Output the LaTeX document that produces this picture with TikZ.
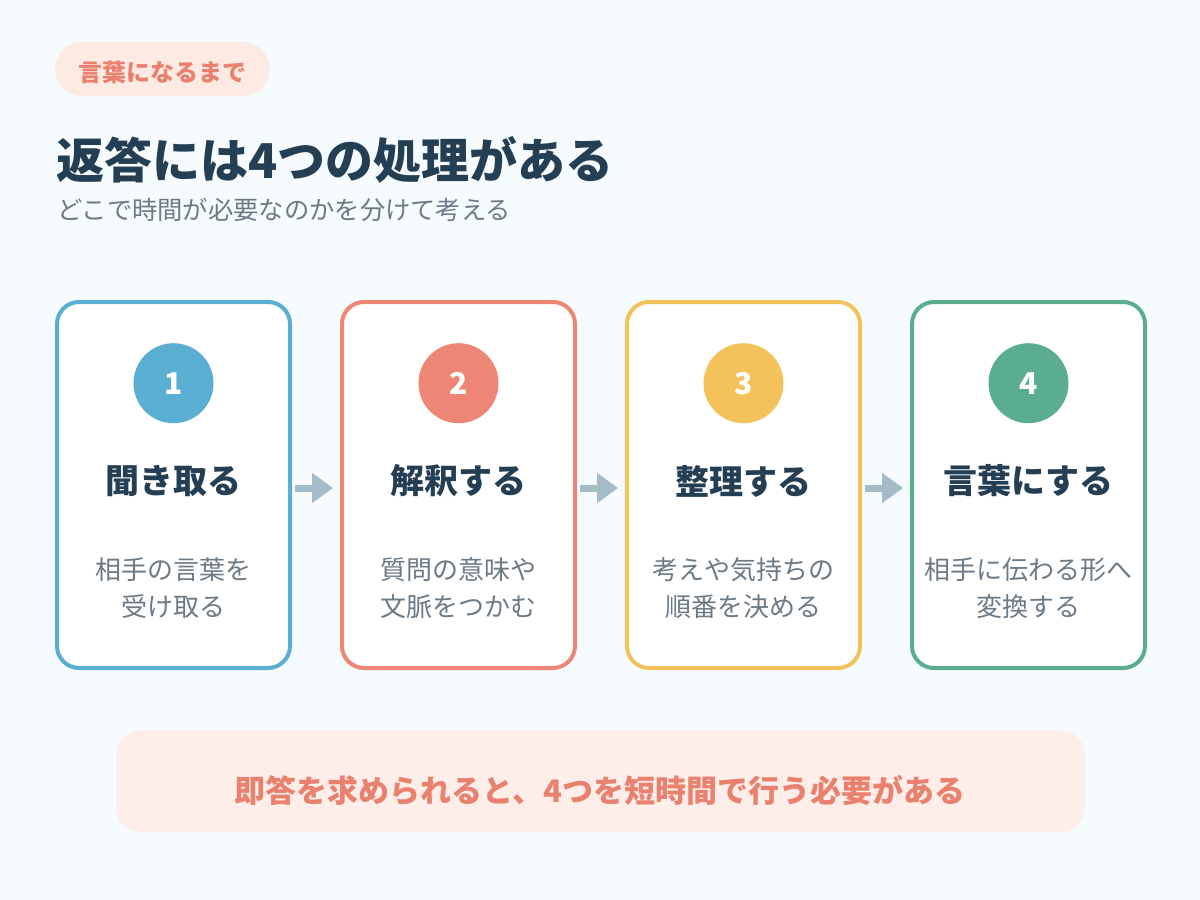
\documentclass[tikz,border=0pt]{standalone}
\usepackage{fontspec}
\setmainfont{Noto Sans CJK JP}
\usepackage{xcolor}
\usepackage{tikz}
\usetikzlibrary{arrows.meta, positioning}
\definecolor{pagebg}{RGB}{246, 251, 253}
\definecolor{inkdark}{RGB}{36, 62, 84}
\definecolor{inkgray}{RGB}{108, 122, 134}
\definecolor{salmon}{RGB}{233, 129, 110}
\definecolor{peachbg}{RGB}{253, 234, 227}
\definecolor{notebg}{RGB}{253, 238, 233}
\definecolor{stepblue}{RGB}{90, 174, 209}
\definecolor{stepred}{RGB}{238, 134, 117}
\definecolor{stepyellow}{RGB}{244, 194, 90}
\definecolor{stepgreen}{RGB}{90, 174, 143}
\definecolor{flowgray}{RGB}{163, 188, 200}
\tikzstyle{card} = [draw, rectangle, rounded corners=22pt, line width=4pt, fill=white, minimum width=233pt, minimum height=366pt]
\tikzstyle{numdot} = [circle, minimum size=80pt, inner sep=0pt, text=white, font=\fontsize{30}{36}\selectfont\bfseries]
\tikzstyle{cardtitle} = [text=inkdark, font=\fontsize{34}{40}\selectfont\bfseries]
\tikzstyle{carddesc} = [align=center, text=inkgray, font=\fontsize{26}{37}\selectfont]
\tikzstyle{flow} = [draw, -{Triangle[length=21pt, width=29pt]}, line width=7pt, flowgray]

\begin{document}
\begin{tikzpicture}[x=1pt, y=-1pt, node distance=48pt]
    \fill [pagebg] (0,0) rectangle (1200,900);
    \useasboundingbox (0,0) rectangle (1200,900);

    % header
    \node (tag) [rectangle, rounded corners=27pt, fill=peachbg, minimum width=215pt, minimum height=54pt] at (162.5,69) {};
    \node (tagtext) [text=salmon, font=\fontsize{24}{28}\selectfont\bfseries] at (162.5,72) {言葉になるまで};
    \node (title) [anchor=west, inner sep=0pt, text=inkdark, font=\fontsize{48}{56}\selectfont\bfseries] at (56,160) {返答には4つの処理がある};
    \node (subtitle) [anchor=west, inner sep=0pt, text=inkgray, font=\fontsize{25.3}{30}\selectfont] at (57,210) {どこで時間が必要なのかを分けて考える};

    % the four steps
    \node (card1) [card, draw=stepblue] at (173.5,485) {};
    \node (card2) [card, draw=stepred, right=of card1] {};
    \node (card3) [card, draw=stepyellow, right=of card2] {};
    \node (card4) [card, draw=stepgreen, right=of card3] {};

    \node (n1) [numdot, fill=stepblue, below=43pt of card1.north] {1};
    \node (n2) [numdot, fill=stepred, below=43pt of card2.north] {2};
    \node (n3) [numdot, fill=stepyellow, below=43pt of card3.north] {3};
    \node (n4) [numdot, fill=stepgreen, below=43pt of card4.north] {4};

    \node (t1) [cardtitle] at ([yshift=-181pt]card1.north) {聞き取る};
    \node (t2) [cardtitle] at ([yshift=-181pt]card2.north) {解釈する};
    \node (t3) [cardtitle] at ([yshift=-181pt]card3.north) {整理する};
    \node (t4) [cardtitle] at ([yshift=-181pt]card4.north) {言葉にする};

    \node (d1) [carddesc] at ([yshift=-288pt]card1.north) {相手の言葉を\\受け取る};
    \node (d2) [carddesc] at ([yshift=-288pt]card2.north) {質問の意味や\\文脈をつかむ};
    \node (d3) [carddesc] at ([yshift=-288pt]card3.north) {考えや気持ちの\\順番を決める};
    \node (d4) [carddesc] at ([yshift=-288pt]card4.north) {相手に伝わる形へ\\変換する};

    \draw [flow] ([xshift=3pt, yshift=-3pt]card1.east) -- ([xshift=-7pt, yshift=-3pt]card2.west);
    \draw [flow] ([xshift=3pt, yshift=-3pt]card2.east) -- ([xshift=-7pt, yshift=-3pt]card3.west);
    \draw [flow] ([xshift=3pt, yshift=-3pt]card3.east) -- ([xshift=-7pt, yshift=-3pt]card4.west);

    % conclusion
    \node (note) [rectangle, rounded corners=25pt, fill=notebg, minimum width=969pt, minimum height=102pt] at (600.5,781) {};
    \node (notetext) [text=salmon, font=\fontsize{31}{36}\selectfont\bfseries] at (600,790) {即答を求められると、4つを短時間で行う必要がある};
\end{tikzpicture}
\end{document}
